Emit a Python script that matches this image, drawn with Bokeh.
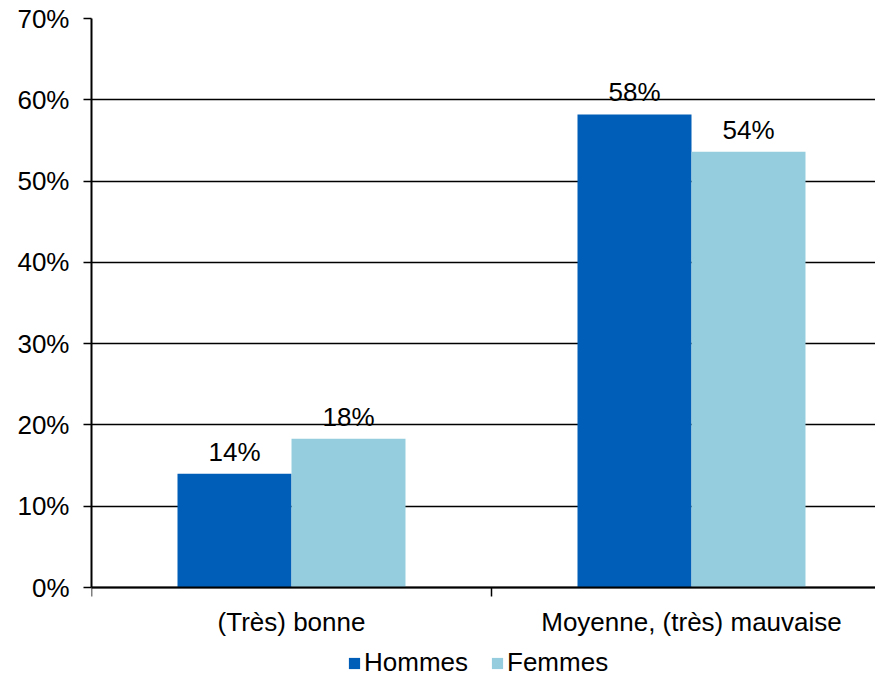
from bokeh.plotting import figure
from bokeh.models import (Range1d, FixedTicker, PrintfTickFormatter, ColumnDataSource,
                          Legend, LegendItem, Span)
from bokeh.core.properties import value
from bokeh.embed import file_html
from bokeh.resources import INLINE

categories = ["(Très) bonne", "Moyenne, (très) mauvaise"]
series = ["Hommes", "Femmes"]
hommes = [14.0, 58.2]
femmes = [18.3, 53.6]
colors = ["#005EB8", "#96CDDE"]
y_ticks = [0, 10, 20, 30, 40, 50, 60, 70]

FONT = "Liberation Sans"
FS = "26px"
bar_w = 0.285

# layout (pixels): plot area 0..70% spans 569 px, 90 px kept below for labels and legend
AREA_H, BELOW_H = 569, 90
Y_MAX = 70
px_per_unit = AREA_H / Y_MAX
y_min = -BELOW_H / px_per_unit

p = figure(frame_width=784, frame_height=AREA_H + BELOW_H, output_backend="svg",
           toolbar_location=None, x_axis_location=None,
           x_range=Range1d(0, 1.96), y_range=Range1d(y_min, Y_MAX),
           min_border_left=91, min_border_top=18, min_border_right=0, min_border_bottom=0)
p.outline_line_color = None
for g in p.grid:
    if g.dimension == 0:
        g.visible = False
        g.grid_line_color = None
p.ygrid.grid_line_color = "black"
p.ygrid.grid_line_width = 1.3
p.ygrid.ticker = FixedTicker(ticks=y_ticks)

p.yaxis.ticker = FixedTicker(ticks=y_ticks)
p.yaxis.bounds = (0, Y_MAX)
p.yaxis.formatter = PrintfTickFormatter(format="%d%%")
p.yaxis.major_label_text_font = FONT
p.yaxis.major_label_text_font_size = FS
p.yaxis.major_label_text_color = "black"
p.yaxis.axis_line_width = 2
p.yaxis.axis_line_color = "black"
p.yaxis.major_tick_out = 8
p.yaxis.major_tick_in = 0
p.yaxis.major_tick_line_width = 1.5
p.yaxis.minor_tick_line_color = None
p.yaxis.major_label_standoff = 14

# category axis: baseline, boundary ticks and labels
p.add_layout(Span(location=0, dimension="width", line_color="black", line_width=2))
centers = [i + 0.5 for i in range(len(categories))]
bounds = list(range(len(categories) + 1))
tick_len = 9 / px_per_unit
p.segment(x0=bounds, y0=[0] * len(bounds), x1=bounds, y1=[-tick_len] * len(bounds),
          line_color="black", line_width=1.5)
p.text(x=centers, y=[0] * len(centers), text=categories, text_align="center",
       text_baseline="middle", y_offset=34, text_font=value(FONT),
       text_font_size=FS, text_color="black")

items = []
for k, (name, vals) in enumerate(zip(series, [hommes, femmes])):
    xs = [c + (k - 0.5) * bar_w for c in centers]
    src = ColumnDataSource(dict(x=xs, top=vals, lab=["%d%%" % round(v) for v in vals]))
    r = p.vbar(x="x", top="top", width=bar_w, bottom=0, source=src,
               fill_color=colors[k], line_color=None)
    p.text(x="x", y="top", text="lab", source=src, text_align="center",
           text_baseline="middle", y_offset=-22, text_font=value(FONT),
           text_font_size=FS, text_color="black")
    items.append(LegendItem(label=name, renderers=[r]))

legend = Legend(items=items, orientation="horizontal", location=(256, -1),
                glyph_width=14, glyph_height=14, label_standoff=3, spacing=22,
                padding=0, margin=0, border_line_color=None, background_fill_alpha=0,
                label_text_font=FONT, label_text_font_size=FS, label_text_color="black",
                label_height=14)
p.add_layout(legend, "center")

open("out.html", "w").write(file_html(p, INLINE))
